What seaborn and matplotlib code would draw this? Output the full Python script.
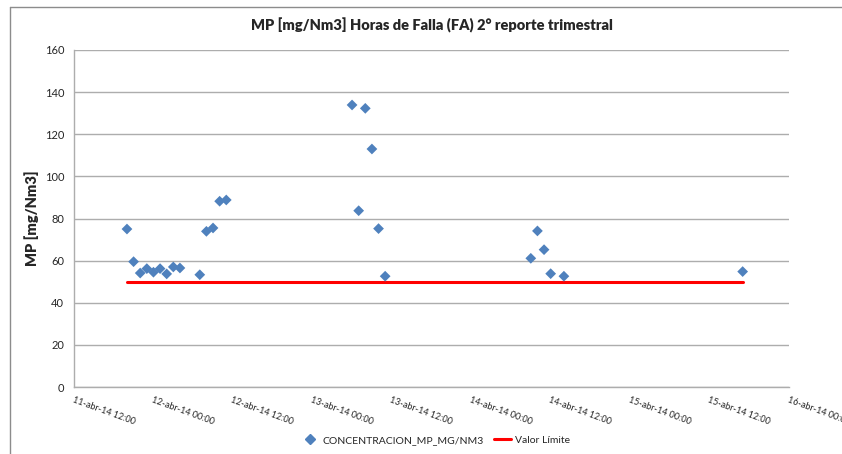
import pandas as pd
import seaborn as sns
import matplotlib.dates as mdates
from matplotlib import pyplot as plt
from matplotlib.lines import Line2D

# --- data ---
times = [
    "2014-04-11 20:00", "2014-04-11 21:00", "2014-04-11 22:00", "2014-04-11 23:00",
    "2014-04-12 00:00", "2014-04-12 01:00", "2014-04-12 02:00", "2014-04-12 03:00",
    "2014-04-12 04:00", "2014-04-12 07:00", "2014-04-12 08:00", "2014-04-12 09:00",
    "2014-04-12 10:00", "2014-04-12 11:00",
    "2014-04-13 06:00", "2014-04-13 07:00", "2014-04-13 08:00", "2014-04-13 09:00",
    "2014-04-13 10:00", "2014-04-13 11:00",
    "2014-04-14 09:00", "2014-04-14 10:00", "2014-04-14 11:00", "2014-04-14 12:00",
    "2014-04-14 14:00",
    "2014-04-15 17:00",
]
concentracion = [
    75.0, 59.5, 54.1, 56.2, 54.5, 56.2, 53.7, 57.0, 56.5, 53.3, 73.9, 75.5, 88.2, 88.8,
    133.9, 83.7, 132.3, 113.0, 75.2, 52.6,
    61.1, 74.1, 65.2, 53.8, 52.6,
    54.8,
]
valor_limite = [50] * len(times)

TITLE = "MP [mg/Nm3] Horas de Falla (FA) 2° reporte trimestral"
Y_LABEL = "MP [mg/Nm3]"
SERIES_LABELS = ["CONCENTRACION_MP_MG/NM3", "Valor Límite"]

POINT_COLOR = "#4F81BD"
LIMIT_COLOR = "#FF0000"
GRID_COLOR = "#ADADAD"

df = pd.DataFrame({
    "fecha": pd.to_datetime(times),
    "concentracion": concentracion,
    "limite": valor_limite,
})

sns.set_style("white")
plt.rcParams["font.family"] = ["Lato", "DejaVu Sans"]

fig = plt.figure(figsize=(8.42, 4.54), dpi=100)
ax = fig.add_axes([74 / 842, 1 - 387 / 454, (789 - 74) / 842, (387 - 50) / 454])

sns.lineplot(data=df, x="fecha", y="limite", ax=ax, color=LIMIT_COLOR, lw=2.2, zorder=2)
sns.scatterplot(data=df, x="fecha", y="concentracion", ax=ax, marker="D", s=30,
                color=POINT_COLOR, edgecolor="none", zorder=3)

ax.set_xlim(pd.Timestamp("2014-04-11 12:00"), pd.Timestamp("2014-04-16 00:00"))
ax.set_ylim(0, 160)
ax.set_yticks(range(0, 161, 20))
ax.xaxis.set_major_locator(mdates.HourLocator(byhour=[0, 12]))
ax.xaxis.set_major_formatter(mdates.DateFormatter("%d-abr-%y %H:%M"))

ax.grid(True, axis="y", color=GRID_COLOR, lw=1)
ax.set_axisbelow(True)
for side in ("top", "right"):
    ax.spines[side].set_visible(False)
for side in ("left", "bottom"):
    ax.spines[side].set_color(GRID_COLOR)
    ax.spines[side].set_linewidth(1)

ax.tick_params(axis="y", length=4, color=GRID_COLOR, labelsize=8, pad=3)
ax.tick_params(axis="x", length=4, color=GRID_COLOR, labelsize=6.5, pad=2)
for lbl in ax.get_xticklabels():
    lbl.set_rotation(-20)
    lbl.set_rotation_mode("anchor")
    lbl.set_ha("left")
    lbl.set_va("top")

ax.set_xlabel("")
ax.set_ylabel(Y_LABEL, fontsize=10.5, fontweight="heavy", labelpad=4)
ax.set_title(TITLE, fontsize=10.5, fontweight="heavy", pad=14)

# chart frame (top and left edge visible as in the reference)
fig.add_artist(Line2D([10 / 842, 1], [1 - 7 / 454, 1 - 7 / 454], color="#8C8C8C", lw=1))
fig.add_artist(Line2D([10 / 842, 10 / 842], [0, 1 - 7 / 454], color="#8C8C8C", lw=1))

handles = [
    Line2D([], [], marker="D", ls="none", color=POINT_COLOR, markersize=5),
    Line2D([], [], color=LIMIT_COLOR, lw=2.2),
]
fig.legend(handles, SERIES_LABELS, loc="center", bbox_to_anchor=(436 / 842, 1 - 440 / 454),
           ncol=2, frameon=False, fontsize=7.5, handlelength=1.6, columnspacing=1.0,
           handletextpad=0.4)

fig.savefig("out.png", dpi=100)
